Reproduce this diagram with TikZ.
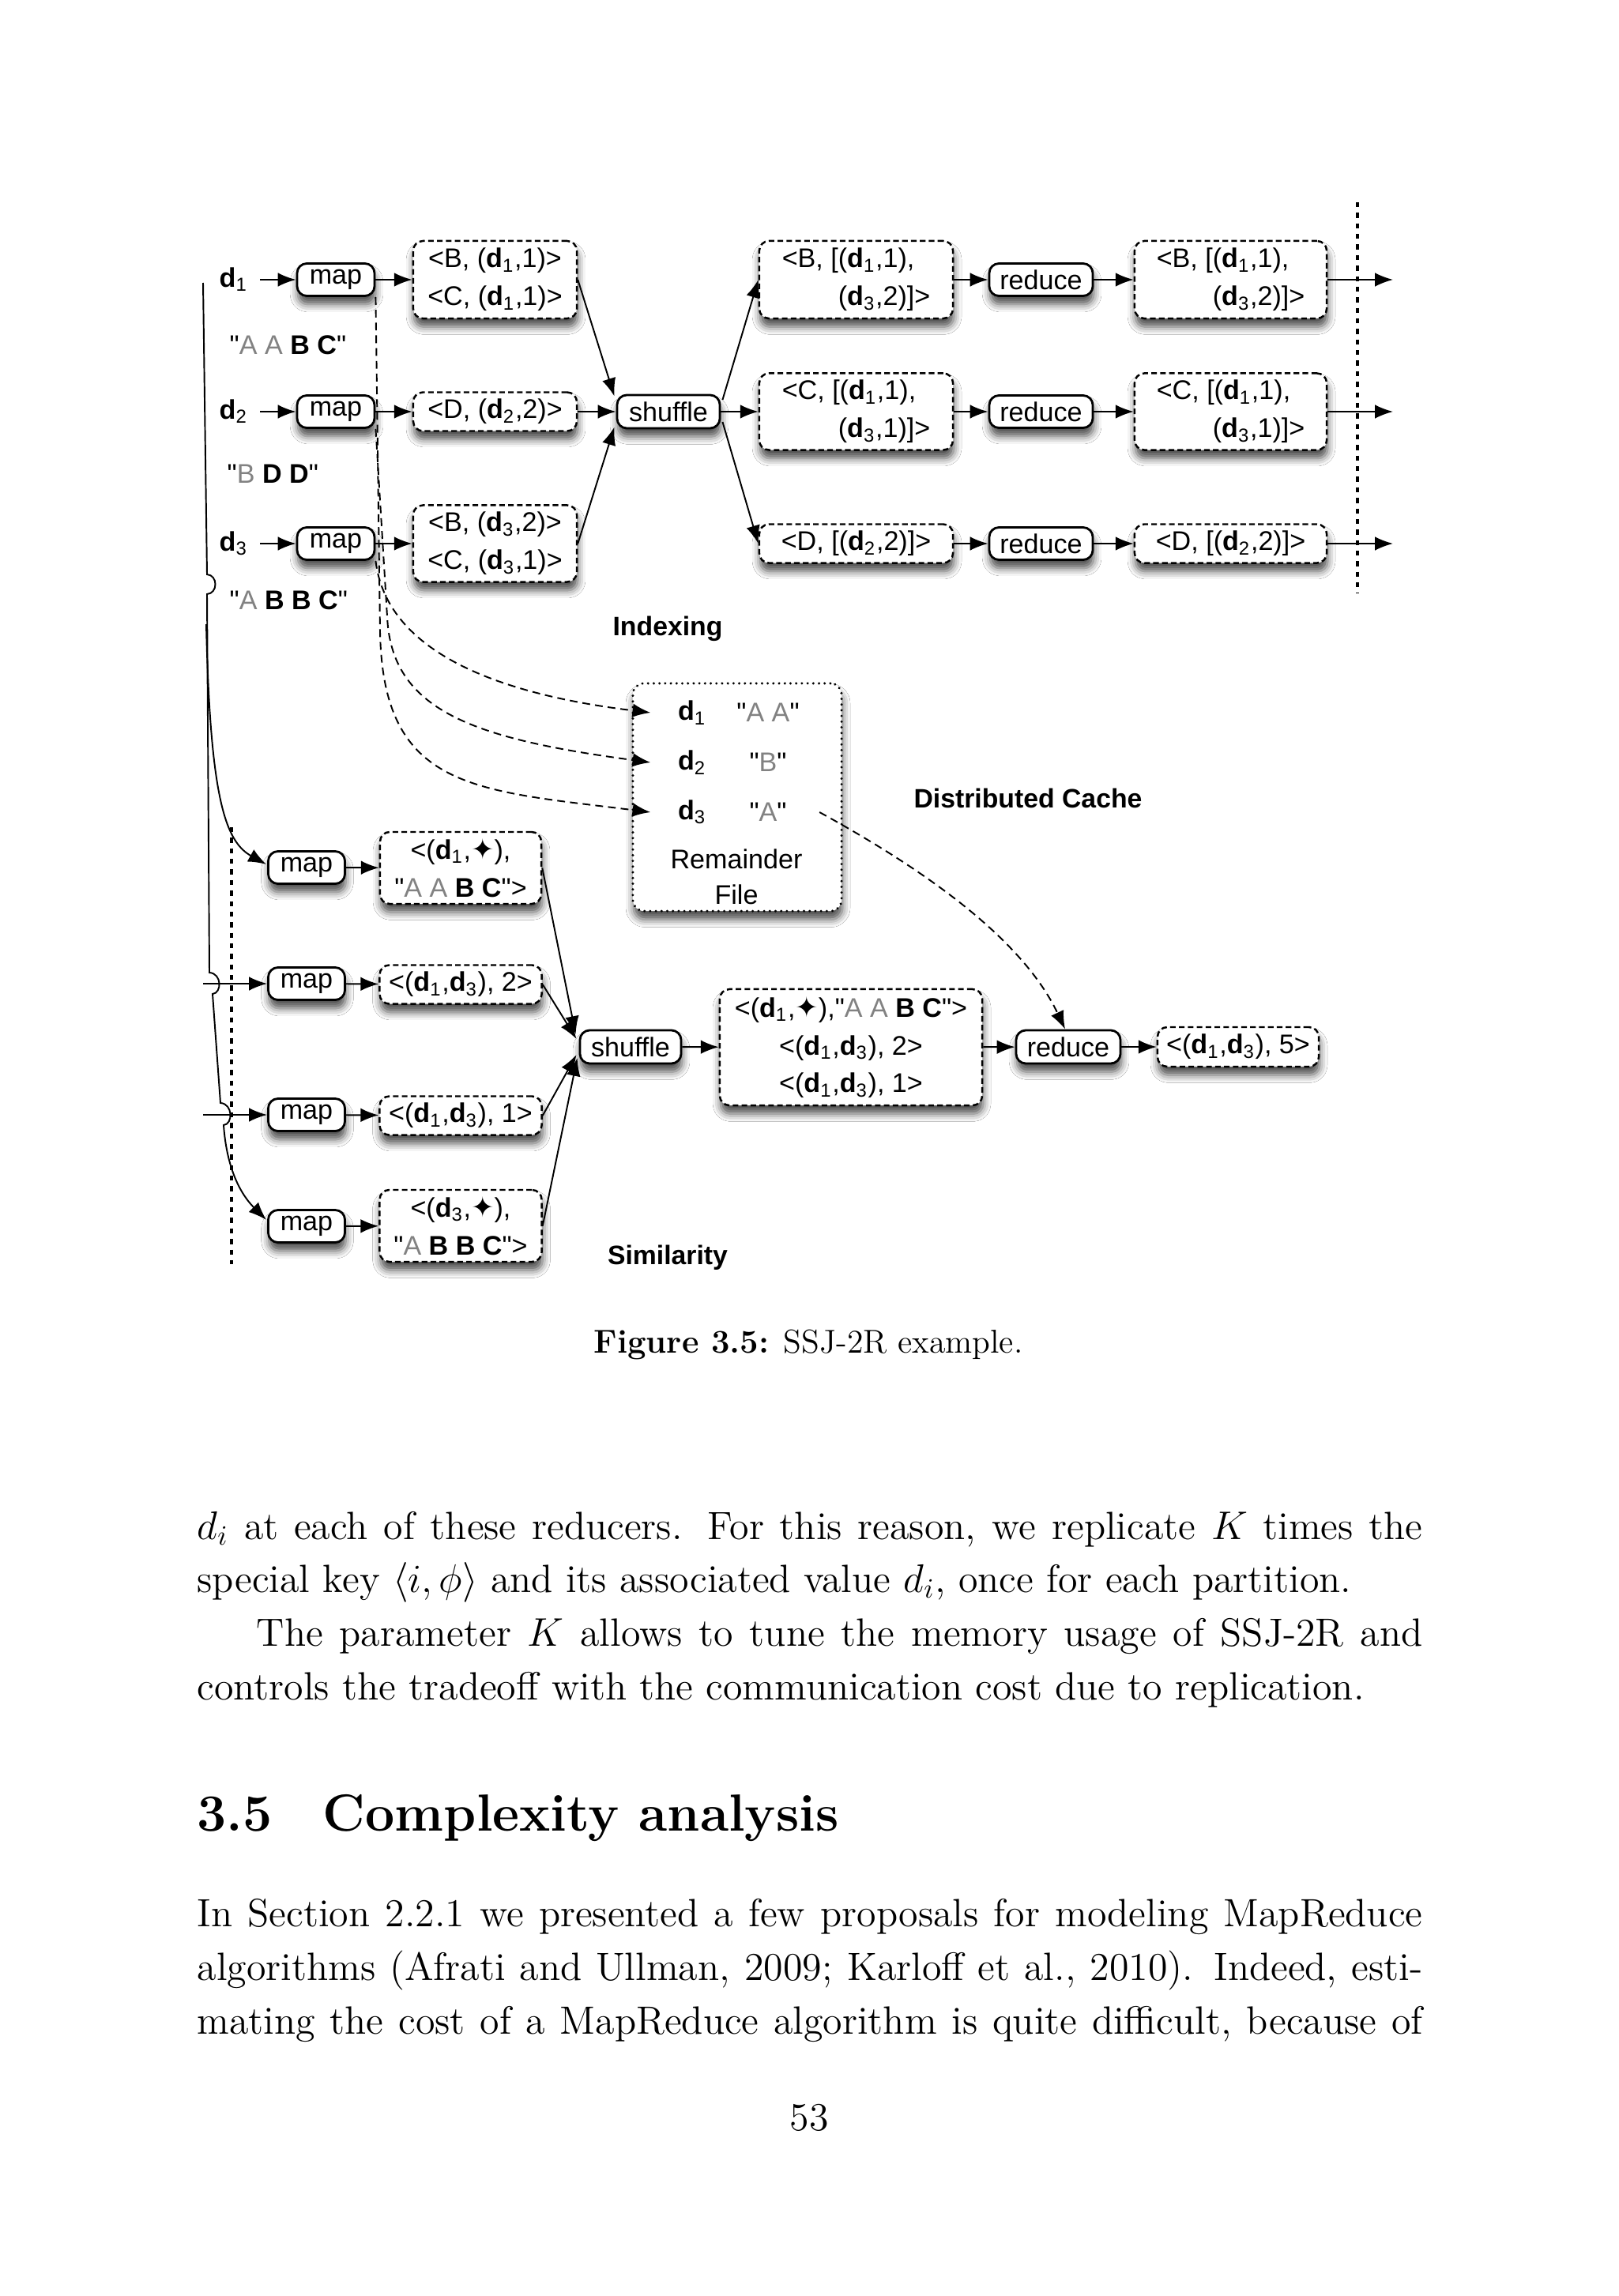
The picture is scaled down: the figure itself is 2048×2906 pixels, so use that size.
\documentclass[tikz,border=0pt]{standalone}
\usepackage{fontspec}
\newfontfamily\diagfont{Liberation Sans}[Ligatures=TeXOff]
\newfontfamily\symfont{DejaVu Sans}
\usetikzlibrary{arrows.meta,calc,shadows.blur}
\definecolor{txtgray}{RGB}{130,130,130}
\newcommand{\dsub}[1]{\textbf{d}\textsubscript{#1}}
\newcommand{\grtx}[1]{\textcolor{txtgray}{#1}}
\newcommand{\fstar}{{\symfont\fontsize{10}{10}\selectfont ✦}}
\newcommand{\dfont}{\diagfont\fontsize{9.7}{13.6}\selectfont}
\newcommand{\bodyf}{\fontsize{14.2}{19.35}\selectfont}
\tikzset{
  sh/.style={blur shadow={shadow xshift=0.3pt, shadow yshift=-3pt, shadow blur radius=2.8pt, shadow opacity=70}},
  mapb/.style={draw, line width=0.8pt, rounded corners=3.5pt, fill=white, inner sep=0pt,
    minimum height=0.41cm, minimum width=0.97cm, font=\dfont, sh},
  kv/.style={draw, line width=0.7pt, dash pattern=on 2pt off 1.2pt, rounded corners=3.5pt,
    fill=white, inner sep=0pt, align=center, font=\dfont, sh},
  remb/.style={draw, line width=0.9pt, dash pattern=on 0.05pt off 2pt, line cap=round,
    rounded corners=4pt, fill=white, inner sep=0pt, sh},
  arr/.style={-{Latex[length=6.5pt,width=5pt]}, line width=0.55pt},
  darr/.style={arr, dash pattern=on 2.8pt off 1.8pt},
  dotv/.style={line width=1.3pt, dash pattern=on 1.8pt off 2pt},
  dlab/.style={anchor=west, inner sep=0pt, font=\dfont},
  clab/.style={inner sep=0pt, font=\dfont},
  lbl/.style={inner sep=0pt, font=\diagfont\bfseries\fontsize{9.6}{11}\selectfont},
  bodyl/.style={anchor=base west, inner sep=0pt, font=\bodyf},
}
\begin{document}
\begin{tikzpicture}[x=0.01cm,y=-0.01cm]
\fill[white] (0,0) rectangle (2048,2906);
\useasboundingbox (0,0) rectangle (2048,2906);

% ---------------- Indexing ----------------
\node[dlab] (d1) at (277,354) {\dsub{1}};
\node[dlab] (d2) at (277,521) {\dsub{2}};
\node[dlab] (d3) at (277,688) {\dsub{3}};
\node[dlab] (t1) at (290,437) {"\grtx{A A} \textbf{B C}"};
\node[dlab] (t2) at (287,600) {"\grtx{B} \textbf{D D}"};
\node[dlab] (t3) at (290,760) {"\grtx{A} \textbf{B B C}"};

\node[mapb, minimum width=0.98cm] (m1) at (425,354) {map};
\node[mapb, minimum width=0.98cm] (m2) at (425,521) {map};
\node[mapb, minimum width=0.98cm] (m3) at (425,688) {map};

\node[kv, minimum width=2.07cm, minimum height=0.98cm] (b1) at (626.5,354) {<B, (\dsub{1},1)>\\<C, (\dsub{1},1)>};
\node[kv, minimum width=2.07cm, minimum height=0.49cm] (b2) at (626.5,521) {<D, (\dsub{2},2)>};
\node[kv, minimum width=2.07cm, minimum height=0.97cm] (b3) at (626.5,688) {<B, (\dsub{3},2)>\\<C, (\dsub{3},1)>};

\node[mapb, minimum width=1.30cm, minimum height=0.42cm] (sh) at (846,521) {shuffle};

\node[kv, align=left, minimum width=2.45cm, minimum height=0.98cm] (rB) at (1083.5,354) {<B, [(\dsub{1},1),\\\hspace*{0.71cm}(\dsub{3},2)]>};
\node[kv, align=left, minimum width=2.45cm, minimum height=0.97cm] (rC) at (1083.5,521) {<C, [(\dsub{1},1),\\\hspace*{0.71cm}(\dsub{3},1)]>};
\node[kv, minimum width=2.45cm, minimum height=0.49cm] (rD) at (1083.5,688) {<D, [(\dsub{2},2)]>};

\node[mapb, minimum width=1.31cm] (red1) at (1317.5,354) {reduce};
\node[mapb, minimum width=1.31cm] (red2) at (1317.5,521) {reduce};
\node[mapb, minimum width=1.31cm] (red3) at (1317.5,688) {reduce};

\node[kv, align=left, minimum width=2.43cm, minimum height=0.98cm] (oB) at (1557.5,354) {<B, [(\dsub{1},1),\\\hspace*{0.71cm}(\dsub{3},2)]>};
\node[kv, align=left, minimum width=2.43cm, minimum height=0.97cm] (oC) at (1557.5,521) {<C, [(\dsub{1},1),\\\hspace*{0.71cm}(\dsub{3},1)]>};
\node[kv, minimum width=2.43cm, minimum height=0.49cm] (oD) at (1557.5,688) {<D, [(\dsub{2},2)]>};

\coordinate (out1) at (1763,354);
\coordinate (out2) at (1763,521);
\coordinate (out3) at (1763,688);

\node[lbl] (lidx) at (845,796) {Indexing};

% ---------------- Distributed cache ----------------
\node[remb, minimum width=2.64cm, minimum height=2.88cm] (rf) at (933,1009) {};
\node[clab] (rd1) at (876,902) {\dsub{1}};
\node[clab] (rd2) at (876,965) {\dsub{2}};
\node[clab] (rd3) at (876,1028) {\dsub{3}};
\node[clab] (ra1) at (972,902) {"\grtx{A A}"};
\node[clab] (ra2) at (972,965) {"\grtx{B}"};
\node[clab] (ra3) at (972,1028) {"\grtx{A}"};
\node[clab, align=center, font=\diagfont\fontsize{9.7}{12.8}\selectfont] (rtxt) at (932,1110) {Remainder\\File};
\node[lbl] (ldc) at (1301,1010) {Distributed Cache};

% ---------------- Similarity ----------------
\node[mapb] (m4) at (388,1098) {map};
\node[mapb] (m5) at (388,1245) {map};
\node[mapb] (m6) at (388,1411) {map};
\node[mapb] (m7) at (388,1552) {map};

\node[kv, minimum width=2.04cm, minimum height=0.91cm] (b4) at (583,1098.5) {<(\dsub{1},\fstar),\\"\grtx{A A} \textbf{B C}">};
\node[kv, minimum width=2.05cm, minimum height=0.49cm] (b5) at (583,1246) {<(\dsub{1},\dsub{3}), 2>};
\node[kv, minimum width=2.05cm, minimum height=0.49cm] (b6) at (583,1412) {<(\dsub{1},\dsub{3}), 1>};
\node[kv, minimum width=2.05cm, minimum height=0.91cm] (b7) at (583,1551.5) {<(\dsub{3},\fstar),\\"\grtx{A} \textbf{B B C}">};

\node[mapb, minimum width=1.28cm, minimum height=0.42cm] (sh2) at (798,1325) {shuffle};
\node[kv, minimum width=3.32cm, minimum height=1.47cm] (b8) at (1077,1325.5) {<(\dsub{1},\fstar),"\grtx{A A} \textbf{B C}">\\<(\dsub{1},\dsub{3}), 2>\\<(\dsub{1},\dsub{3}), 1>};
\node[mapb, minimum width=1.32cm, minimum height=0.42cm] (rs) at (1352,1325) {reduce};
\node[kv, minimum width=2.04cm, minimum height=0.50cm] (b9) at (1567,1325) {<(\dsub{1},\dsub{3}), 5>};

\node[lbl] (lsim) at (845,1592) {Similarity};

\coordinate (in5) at (257,1245);
\coordinate (in6) at (257,1411);

% ---------------- connectors: indexing ----------------
\draw[arr, shorten <=0.15cm] (d1) -- (m1);
\draw[arr, shorten <=0.15cm] (d2) -- (m2);
\draw[arr, shorten <=0.15cm] (d3) -- (m3);
\draw[arr] (m1) -- (b1);
\draw[arr] (m2) -- (b2);
\draw[arr] (m3) -- (b3);
\draw[arr] (b1.east) -- ($(sh.north west)+(-2,3)$);
\draw[arr] (b2) -- (sh);
\draw[arr] (b3.east) -- ($(sh.south west)+(-2,-3)$);
\draw[arr] ($(sh.east)+(2,-15)$) -- (rB.west);
\draw[arr] (sh) -- (rC);
\draw[arr] ($(sh.east)+(2,13)$) -- (rD.west);
\draw[arr] (rB) -- (red1);
\draw[arr] (rC) -- (red2);
\draw[arr] (rD) -- (red3);
\draw[arr] (red1) -- (oB);
\draw[arr] (red2) -- (oC);
\draw[arr] (red3) -- (oD);
\draw[arr] (oB.east) -- (out1);
\draw[arr] (oC.east) -- (out2);
\draw[arr] (oD.east) -- (out3);
\draw[dotv] (1718,256) -- (1718,751);

% ---------------- connectors: cache ----------------
\draw[darr] (m1.south east) -- (481,800) .. controls (485,1000) and (600,1000) .. ($(rd3.west)+(-34,0)$);
\draw[darr] (m2.south east) -- (490,780) .. controls (495,900) and (600,935) .. ($(rd2.west)+(-34,0)$);
\draw[darr] (m3.south east) .. controls (485,790) and (560,870) .. ($(rd1.west)+(-34,0)$);
\draw[darr] ($(ra3.east)+(41,0)$) .. controls (1150,1090) and (1290,1180) .. ($(rs.north)+(-4,0)$);

% ---------------- connectors: similarity ----------------
\draw[arr] (257,358) -- (262,727) .. controls (276,728) and (276,751) .. (262,752)
  -- (265,1231) .. controls (281,1232) and (281,1257) .. (269,1258)
  -- (279,1396) .. controls (295,1397) and (295,1423) .. (283,1424)
  .. controls (287,1480) and (305,1512) .. ($(m7.west)+(-1,-8)$);
\draw[arr] (261,790) .. controls (266,1010) and (285,1065) .. ($(m4.west)+(-1,-4)$);
\draw[arr] (in5) -- (m5);
\draw[arr] (in6) -- (m6);
\draw[dotv] (293,1047) -- (293,1600);
\draw[arr] (m4) -- (b4);
\draw[arr] (m5) -- (b5);
\draw[arr] (m6) -- (b6);
\draw[arr] (m7) -- (b7);
\draw[arr] (b4.east) -- ($(sh2.west)+(-4,-16)$);
\draw[arr] (b5.east) -- ($(sh2.west)+(-3,-10)$);
\draw[arr] (b6.east) -- ($(sh2.west)+(-3,10)$);
\draw[arr] (b7.east) -- ($(sh2.west)+(-2,14)$);
\draw[arr] (sh2) -- (b8);
\draw[arr] (b8) -- (rs);
\draw[arr] (rs) -- (b9);

% ---------------- page text ----------------
\node[anchor=base, inner sep=0pt, font=\fontsize{11.9}{14}\selectfont] (cap) at (1023,1712) {\textbf{Figure 3.5:} SSJ-2R example.};

\node[bodyl] (p1a) at (249,1948) {\makebox[15.5cm][s]{$d_i$ at each of these reducers.  For this reason, we replicate $K$ times the}};
\node[bodyl] (p1b) at (249,2015) {special key $\langle i, \phi\rangle$ and its associated value $d_i$, once for each partition.};
\node[bodyl] (p1c) at (324,2083) {\makebox[14.75cm][s]{The parameter $K$ allows to tune the memory usage of SSJ-2R and}};
\node[bodyl] (p1d) at (249,2151) {controls the tradeoff with the communication cost due to replication.};

\node[anchor=base west, inner sep=0pt, font=\fontsize{18.8}{22}\selectfont\bfseries] (hnum) at (249,2317) {3.5};
\node[anchor=base west, inner sep=0pt, font=\fontsize{18.8}{22}\selectfont\bfseries] (htxt) at (408,2317) {Complexity analysis};

\node[bodyl] (p2a) at (249,2438) {\makebox[15.5cm][s]{In Section 2.2.1 we presented a few proposals for modeling MapReduce}};
\node[bodyl] (p2b) at (249,2506) {\makebox[15.5cm][s]{algorithms (Afrati and Ullman, 2009; Karloff et al., 2010).  Indeed, esti-}};
\node[bodyl] (p2c) at (249,2574) {\makebox[15.5cm][s]{mating the cost of a MapReduce algorithm is quite difficult, because of}};

\node[anchor=base, inner sep=0pt, font=\bodyf] (pnum) at (1024,2696) {53};
\end{tikzpicture}
\end{document}
